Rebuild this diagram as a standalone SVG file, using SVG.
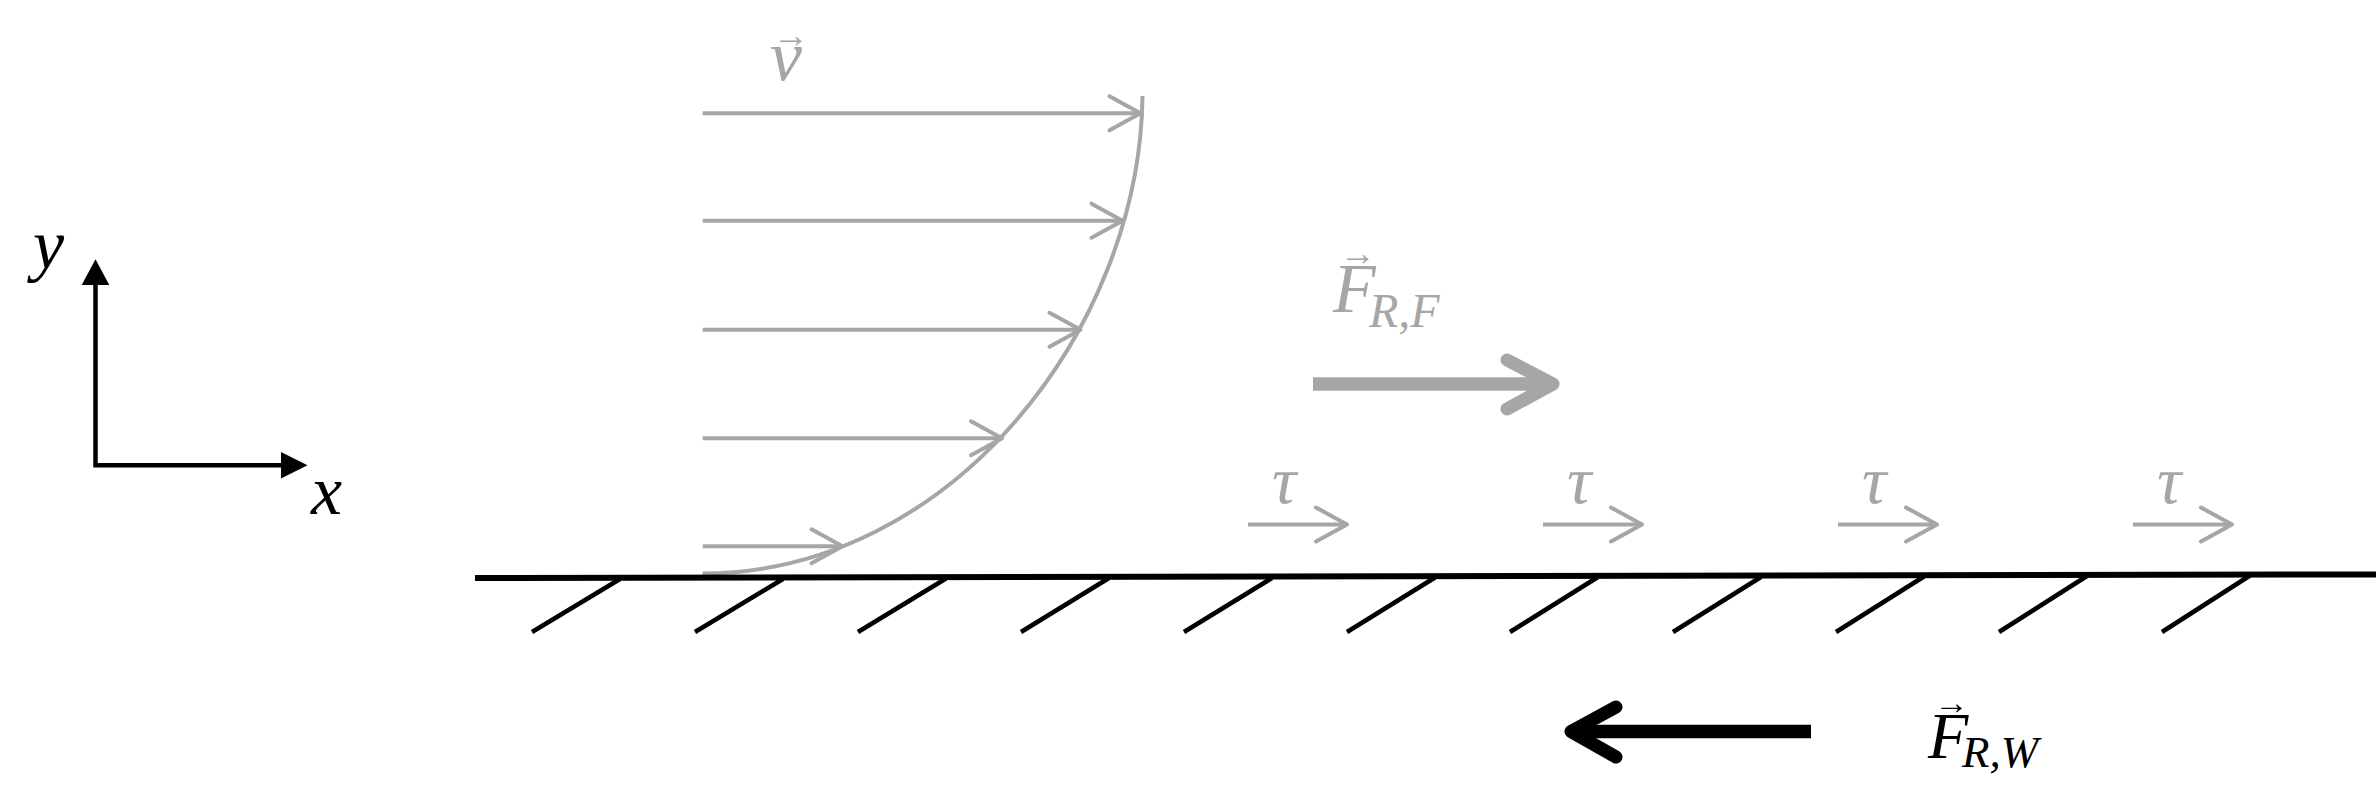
<svg xmlns="http://www.w3.org/2000/svg" width="2380" height="798" viewBox="0 0 2380 798">
<style>
.bg{fill:#ffffff}
.math{font-family:"Liberation Serif","Times New Roman",serif;font-style:italic}
.vec{font-family:"Liberation Sans","DejaVu Sans",sans-serif;font-style:normal;text-anchor:middle}
.gray{fill:#a6a6a6}
.black{fill:#000000}
.axis{stroke:#000;stroke-width:4.5;fill:none}
.head{fill:#000;stroke:none}
.thin{stroke:#a6a6a6;stroke-width:4;fill:none;marker-end:url(#openG)}
.profile{stroke:#a6a6a6;stroke-width:4;fill:none}
.wall{stroke:#000;stroke-width:6;fill:none}
.hatch{stroke:#000;stroke-width:4.5;fill:none}
.fshaft{stroke-width:13.5;fill:none}
.fhead{stroke-width:13;fill:none;stroke-linecap:round;stroke-linejoin:round}
</style>
<defs>
<marker id="openG" markerUnits="userSpaceOnUse" markerWidth="40" markerHeight="40" viewBox="-36 -20 40 40" refX="0" refY="0" orient="auto" overflow="visible">
<path d="M-31,-17 L0,0 L-31,17" fill="none" stroke="#a6a6a6" stroke-width="4" stroke-linecap="round" stroke-linejoin="round"/>
</marker>
</defs>
<rect class="bg" x="0" y="0" width="2380" height="798"/>

<g id="axes">
<path class="axis" d="M95.5,467 L95.5,284 M93.5,465.3 L282,465.3"/>
<path class="head" d="M81.7,285 L109.3,285 L95.5,259.3 Z"/>
<path class="head" d="M281,452 L281,478.5 L307.5,465.3 Z"/>
<text class="math black" x="33" y="268" font-size="70">y</text>
<text class="math black" x="311" y="514" font-size="70">x</text>
</g>

<g id="connectors">
<g id="velocity-arrows">
<path class="thin" d="M702.7,113.3 L1140.5,113.3"/>
<path class="thin" d="M702.7,220.7 L1122.5,220.7"/>
<path class="thin" d="M702.7,329.8 L1080.5,329.8"/>
<path class="thin" d="M702.7,438.3 L1002,438.3"/>
<path class="thin" d="M702.7,546.3 L842.5,546.3"/>
</g>
<g id="shear-arrows">
<path class="thin" d="M1248,524.5 L1347,524.5"/>
<path class="thin" d="M1543,524.5 L1642,524.5"/>
<path class="thin" d="M1838,524.5 L1937,524.5"/>
<path class="thin" d="M2133,524.5 L2232,524.5"/>
</g>
<g id="force-fluid-arrow">
<path class="fshaft" stroke="#a6a6a6" d="M1313,384 L1552,384"/>
<path class="fhead" stroke="#a6a6a6" d="M1507,360 L1553,384 L1507,409"/>
</g>
<g id="force-wall-arrow">
<path class="fshaft" stroke="#000" d="M1811,731.5 L1572,731.5"/>
<path class="fhead" stroke="#000" d="M1616,707 L1571,731.5 L1616,757"/>
</g>
</g>

<g id="velocity-profile">
<path class="profile" d="M702.5,573.5 C950,573.5 1140,330 1142.5,96"/>
<text class="vec gray" x="791" y="47" font-size="36">→</text>
<text class="math gray" x="770" y="80" font-size="72">v</text>
</g>

<g id="wall">
<path class="wall" d="M475,578 L2376,574.4"/>
<g class="hatch">
<path d="M620,579 L532,632"/>
<path d="M783,579 L695,632"/>
<path d="M946,578.5 L858,632"/>
<path d="M1109,578 L1021,632"/>
<path d="M1272,578 L1184,632"/>
<path d="M1435,577.5 L1347,632"/>
<path d="M1598,577 L1510,632"/>
<path d="M1761,577 L1673,632"/>
<path d="M1924,576.5 L1836,632"/>
<path d="M2087,576 L1999,632"/>
<path d="M2250,575.5 L2162,632"/>
</g>
</g>

<g id="shear-labels">
<text class="math gray" x="1272" y="503" font-size="68">τ</text>
<text class="math gray" x="1567" y="503" font-size="68">τ</text>
<text class="math gray" x="1862" y="503" font-size="68">τ</text>
<text class="math gray" x="2157" y="503" font-size="68">τ</text>
</g>

<g id="label-force-fluid">
<text class="vec gray" x="1358" y="265" font-size="36">→</text>
<text class="math gray" x="1333" y="311.7" font-size="70">F</text>
<text class="math gray" x="1369" y="326.7" font-size="48">R,F</text>
</g>

<g id="label-force-wall">
<text class="vec black" x="1951.5" y="714" font-size="34">→</text>
<text class="math black" x="1928" y="758.3" font-size="66">F</text>
<text class="math black" x="1962" y="767.3" font-size="45">R,W</text>
</g>
</svg>
